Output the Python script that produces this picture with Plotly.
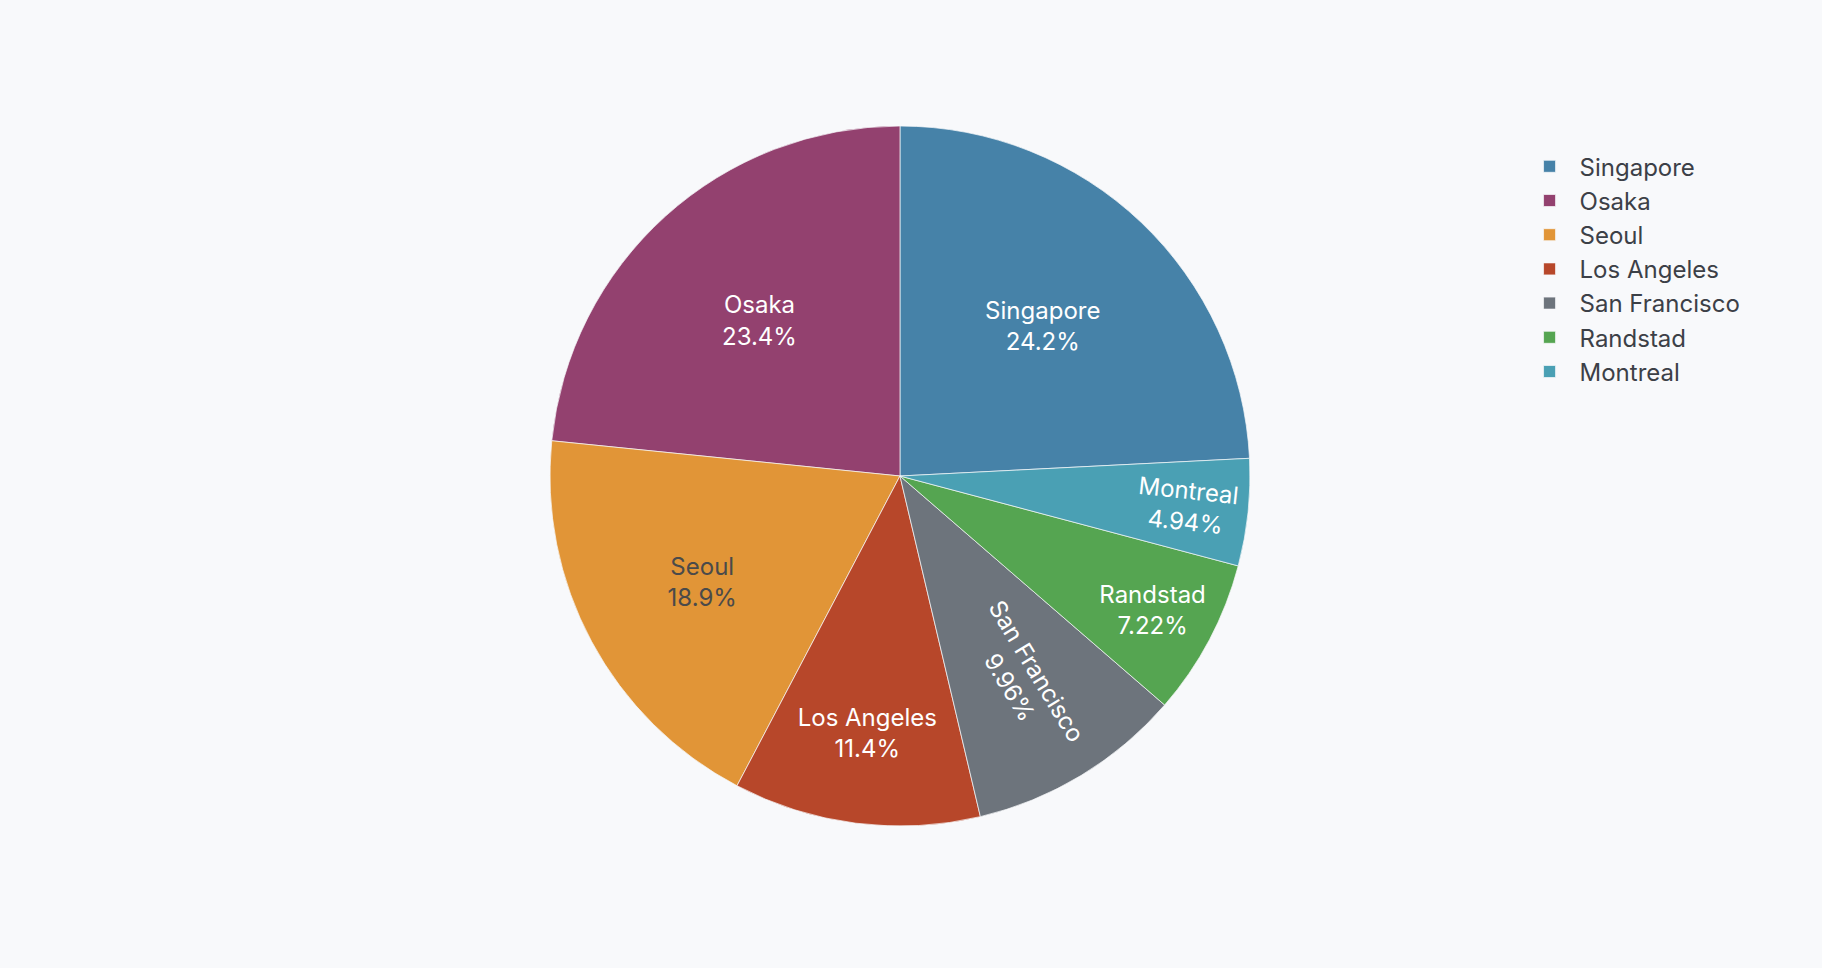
import plotly.graph_objects as go

# share by city (%)
cities = ["Singapore", "Osaka", "Seoul", "Los Angeles", "San Francisco", "Randstad", "Montreal"]
shares = [24.2, 23.4, 18.9, 11.4, 9.96, 7.22, 4.94]
colors = ["#4682A8", "#93416F", "#E19537", "#B7472A", "#6D747C", "#55A551", "#4AA0B4"]
text_colors = ["#ffffff", "#ffffff", "#4a4a4a", "#ffffff", "#ffffff", "#ffffff", "#ffffff"]

bg = "#f8f9fb"

fig = go.Figure(
    go.Pie(
        labels=cities,
        values=shares,
        marker=dict(colors=colors, line=dict(color=bg, width=0.7)),
        textinfo="label+percent",
        textposition="inside",
        insidetextfont=dict(color=text_colors, size=24),
        sort=True,
        direction="counterclockwise",
        domain=dict(x=[0, 0.9879], y=[0, 1]),
        hoverinfo="label+value+percent",
    )
)

fig.update_layout(
    width=1822,
    height=968,
    paper_bgcolor=bg,
    plot_bgcolor=bg,
    font=dict(family="Inter", size=24, color="#3c4047"),
    margin=dict(l=0, r=0, t=126, b=142, autoexpand=False),
    legend=dict(
        x=0.834,
        y=0.974,
        xanchor="left",
        yanchor="top",
        itemwidth=50,
        font=dict(size=24, color="#3c4047"),
        bgcolor="rgba(0,0,0,0)",
    ),
)

# drop the default page margin so the figure fills the window
fig.write_html(
    "out.html",
    config={"displayModeBar": False},
    post_script="document.body.style.margin='0';document.body.style.background='%s';" % bg,
)
